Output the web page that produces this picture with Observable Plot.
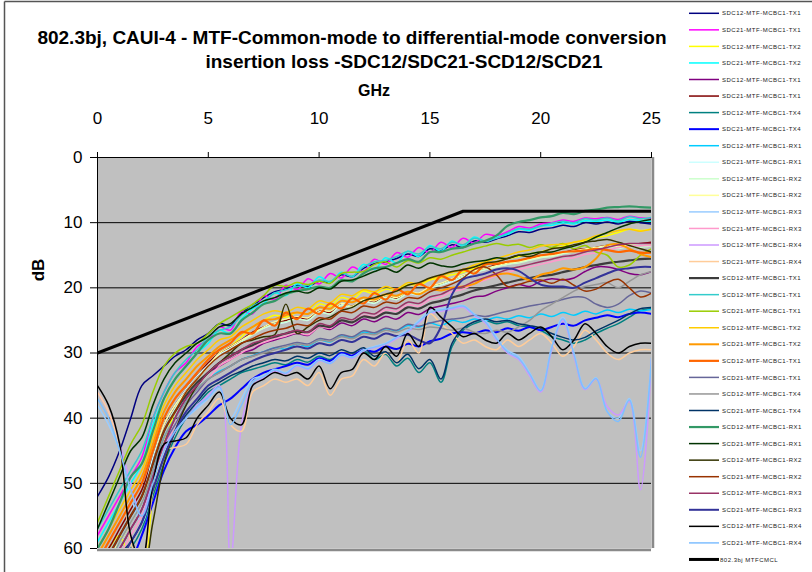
<!DOCTYPE html>
<html><head><meta charset="utf-8">
<script src="https://cdn.jsdelivr.net/npm/d3@7"></script>
<script src="https://cdn.jsdelivr.net/npm/@observablehq/plot@0.6"></script>
<style>
html,body{margin:0;padding:0;background:#fff}
#chart{position:relative;width:812px;height:572px;overflow:hidden}
</style></head><body><div id="chart"></div>
<script>
// ---------- data ----------
const freqGHz = [0,0.5,1,1.5,2,2.5,3,3.5,4,4.5,5,5.5,6,6.5,7,7.5,8,8.5,9,9.5,10,10.5,11,11.5,12,12.5,13,13.5,14,14.5,15,15.5,16,16.5,17,17.5,18,18.5,19,19.5,20,20.5,21,21.5,22,22.5,23,23.5,24,24.5,25];

const seriesNames = [
 "SDC12-MTF-MCBC1-TX1","SDC21-MTF-MCBC1-TX1","SDC12-MTF-MCBC1-TX2","SDC21-MTF-MCBC1-TX2",
 "SDC12-MTF-MCBC1-TX1","SDC21-MTF-MCBC1-TX1","SDC12-MTF-MCBC1-TX4","SDC21-MTF-MCBC1-TX4",
 "SDC12-MTF-MCBC1-RX1","SDC21-MTF-MCBC1-RX1","SDC12-MTF-MCBC1-RX2","SDC21-MTF-MCBC1-RX2",
 "SDC12-MTF-MCBC1-RX3","SDC21-MTF-MCBC1-RX3","SDC12-MTF-MCBC1-RX4","SDC21-MTF-MCBC1-RX4",
 "SCD12-MTF-MCBC1-TX1","SCD12-MTF-MCBC1-TX1","SCD21-MTF-MCBC1-TX1","SCD12-MTF-MCBC1-TX2",
 "SCD21-MTF-MCBC1-TX2","SCD12-MTF-MCBC1-TX1","SCD21-MTF-MCBC1-TX1","SCD12-MTF-MCBC1-TX4",
 "SCD21-MTF-MCBC1-TX4","SCD12-MTF-MCBC1-RX1","SCD21-MTF-MCBC1-RX1","SCD12-MTF-MCBC1-RX2",
 "SCD21-MTF-MCBC1-RX2","SCD12-MTF-MCBC1-RX3","SCD21-MTF-MCBC1-RX3","SCD12-MTF-MCBC1-RX4",
 "SCD21-MTF-MCBC1-RX4"
];

// dB values at each freqGHz point, one array per series (same order as seriesNames)
const s01 = [52,49,45,40,35,33.5,32,30.5,29.5,28,27,25.5,25.8,23.8,22.8,21.5,20.6,20.2,19.6,19.8,19,19.2,18,18.3,17,16.3,16,15.5,14.8,15.2,14,14.3,13.4,13.8,12.8,13,12.5,12,11.4,11.5,11,10.8,10.4,10.6,10,10.2,9.9,10.2,9.8,10,10.2];
const s02 = [58,55,52,49,46,40,36,33,31.5,29,28,26,26.5,23.6,24,21.2,21.8,19.6,20.3,18.6,19.4,17.8,18.5,16.8,17.5,15.6,16.4,14.6,15.3,13.8,14.6,13,13.8,12.4,13.1,11.8,12,11.4,10.6,10.8,10.2,10,9.6,9.8,9.3,9.4,9.2,9.5,9,9.3,9.4];
const s03 = [62,60,58,62,63,52,44,39,36,34,32,30,29,27.5,26,25,24.2,24.5,23.8,24,22.5,22.8,21.5,21.8,20.5,21,20.2,20.5,19.5,19.6,18.8,18.5,18,17.6,17,16.5,16,15.5,15.2,14.8,14.5,14,13.6,13,12.8,12.3,12,11.5,11,11.2,11];
const s04 = [59,56,53,50,47,41,37,34,32,30,28.5,26.5,27,24.8,23.2,22.4,20.8,21.2,19.4,20,18.3,19.2,17.6,18.3,16.4,17.2,15.4,16.2,14.4,15.2,13.5,14.4,12.8,13.6,12.2,12.9,12.3,11.8,11,11.2,10.5,10.4,10,10.2,9.7,9.8,9.6,9.9,9.5,9.7,9.8];
const s05 = [64,62,60,57,54,49,44,40,37,35,33,32,31,30,29.5,28.5,28,27.5,27,27.3,26,26.4,25.4,25.8,24.8,25.2,24.4,24.8,23.8,24.1,23.2,22.8,22.4,22,21.4,21.2,20.5,20,19.5,19.8,19,18.6,18.8,18.5,17.5,16.8,16.8,17.2,17.8,18,17.5];
const s06 = [62,60,57,54,51,46,41,38,35.5,33.5,31.5,30,29,28,26.8,26,25.5,25,24.5,24.8,23.5,23.8,22.5,22.8,22,22.2,21.3,21.6,20.8,21,20,19.5,18.8,18.2,17.5,17,16.5,16.2,15.8,15.5,15.2,15,14.6,14.2,14,13.8,13.5,13.6,13.3,13.2,13];
const s07 = [66,64,62,60,57,52,47,43,40,38,36,35,34,33,32.5,32,31.5,31.8,31,31.4,30.5,31,30,30.5,29.6,31,30.2,32,30.8,33,31.5,34.5,29,26.5,25.5,25,25.5,25.2,25.8,26,26.5,27.5,28,28.5,28,27,26.2,25.5,24.5,23.5,23.2];
const s08 = [66,65,64,62,58,53,48,44.5,42,41,39.6,38,37,35.5,34,33,32.5,32,31.5,31.8,30.8,31.2,30,30.4,29.5,29.8,29,29.4,28.6,29,28.2,27.8,27,26.8,27,26.5,26.8,26.2,26.6,26,26.5,26,25.5,25.8,25,24.6,24.2,24.5,24,23.8,24];
const s09 = [64,62,59,56,53,48,43,40,37.5,35.5,34,32.8,32,31,30.4,29.8,29.2,29.4,28.6,29,28,28.3,27.4,27.7,26.8,27.1,26.3,26.6,25.8,26,25.4,25.8,25,25.3,24.8,25,24.5,24.8,24.3,24.6,24,24.4,23.8,24.2,23.6,24,23.4,23.8,23.3,23.5,23.3];
const s10 = [63,61,58,55,52,46,41,38,35.5,33.5,31.8,30.2,29.3,28.2,27,26.2,25.6,25.3,24.7,25,23.7,24,22.6,23,22.1,22.4,21.4,21.8,20.9,21.1,20.1,19.6,19,18.4,17.7,17.2,16.7,16.4,16,15.7,15.3,15.1,14.7,14.4,14.2,13.9,13.6,13.7,13.4,13.3,13.2];
const s11 = [63,61,59,56,53,47,42,38.5,36,34,32,30.5,29.5,28.3,27.2,26.2,25.5,25.2,24.8,24.9,23.8,24,22.7,23,22,22.3,21.5,21.8,20.8,21,20,19.5,18.8,18.2,17.6,17.2,16.8,16.4,16.2,15.8,15.4,15.2,14.8,14.5,14.3,14,13.8,14,13.7,13.8,13.6];
const s12 = [63,61,59,56,53,47,41,38,36,34,32,30,29,28,27,26,25.2,24.8,24.4,24.6,23.4,23.6,22.4,22.8,21.8,22,21.2,21.5,20.6,20.8,19.8,19.3,18.6,18,17.4,17,16.6,16.2,16,15.6,15.2,15,14.6,14.3,14,13.8,13.5,13.6,13.4,13.5,13.4];
const s13 = [38,41,45,52,56,50,45,42,40,38.5,37,35.5,40,37,34,33.5,32.5,33,31.8,32.3,31,31.5,30.2,30.6,29.5,29,28.5,27.5,26.5,25,23.5,23.2,23,22.7,24,25,27.5,29.6,30.5,33,35.7,29,24.5,30,35.4,33.8,39,40,37,45,30.8];
const s14 = [65,63,61,58,55,50,45,41,38,36,34,32,31,30,29,28.4,27.8,27.4,26.9,27.2,26,26.2,25,25.3,24.2,24.4,23.4,23.6,22.6,22.8,21.8,21.4,20.6,20.2,19.4,18.8,18.2,17.6,17.2,16.8,16.4,16,15.6,15.4,14.9,14.6,14.2,13.8,13.6,13.5,13.5];
const s15 = [36,39,44,50,55,49,44.5,42,40,38,36.5,35,62,41,35,33.8,32.8,33.2,32,32.5,31.2,31.6,30.4,30.8,29.7,29.2,28.7,27.8,26.8,25.4,24,23.6,23.3,23,24.3,25.4,28,30,31,33.5,36,29.5,25,30.5,35.6,34,38.2,39.5,37.5,51,31];
const s16 = [36,39,45,59,63,51,45,44.5,44,41,39,37,41,42,36,35,34,34.5,34,35,33,36.5,34,33.5,31,32,30,31.5,28,30,24,25.5,27,28.5,28,29,29.5,28,29,28,27,28.5,30.5,29,26.5,28,30,31,30,29.5,29.5];
const s17 = [63,61,58,55,52,47,42,39,36.5,34.5,33,31.5,30.5,29.5,28.8,28,27.5,27,26.6,26.8,25.8,26,25,25.3,24.4,24.6,23.8,24,23,23.2,22.4,22,21.5,21,20.4,20,19.6,19.2,18.8,18.5,18.2,18,17.6,17.2,16.8,16.5,16.2,16,15.8,15.6,15.5];
const s18 = [57,54,51,48,45,40,36,33,31,29.5,27.5,26.5,26,24.2,22.8,22,20.8,20.3,19.8,19.6,18.8,19,17.8,18.2,16.8,16,15.8,15.2,14.4,14.8,13.7,14,13,13.4,12.4,12.8,12.4,11.6,10.9,11,10.5,10.1,9.8,10,9.4,9.6,9.3,9.7,9.1,9.4,9.2];
const s19 = [56,52,48,44,41,36,32,30,29,28.5,27,25.5,24.5,23.5,22.5,21.2,19.6,19.8,19.2,19.5,19,19.3,17.8,17.6,17.5,16.4,16,16.8,15.8,16.2,15.4,15.6,15,14.5,14,13.6,13.2,13.5,13.3,13.8,13.4,13.8,13.2,14,13.5,14.5,15,16.8,16.5,15,14];
const s20 = [60,57,54,51,48,43,38,35,33,31,29.5,28,27.5,26,25,24,23.5,23.8,23,23.2,22,22.3,21,21.2,20.3,20.6,19.8,20.2,19.2,19.4,18.6,18.2,17.6,17.2,16.5,16,15.5,15,14.5,14.2,13.6,13.4,13.3,13,12.6,12,11.6,11.2,11,11.3,11];
const s21 = [61,58,55,52,49,44,39,36,34,32,30.5,29,28,27,26,25,24.8,24.2,23.8,24,23,23.2,22,22.2,21.5,21.8,21,21.2,20.6,21,20.2,20.4,20,19.8,19.4,18.5,18,17.8,18.2,18.8,18,17.6,17,17.2,16.8,15.5,13.5,13.3,14,14.8,15.3];
const s22 = [62,59,56,53,50,45,40,37,35,33,31,29.5,28.5,26.8,27,25,25.8,23.8,24.8,23.2,24,22.4,23.2,21.6,22.4,20.8,21.8,20.2,21,19.4,20,18.2,18.8,17.2,17.8,16.4,16.3,16,15.8,15.4,15,14.8,14.5,14.4,14.3,14,14.2,14.5,14.3,14.6,14.6];
const s23 = [65,63,60,57,54,49,44,41,38,36,34,33,32,31,30.5,29.8,29.2,28.8,28.4,28.6,27.8,28,27.2,27.5,26.6,26.9,26.2,26.5,25.6,25.9,25.4,25,24.8,24.6,24.2,24.4,24,23.6,23.2,22.8,22.5,22.2,21.8,21.4,21.5,22.5,23,22.5,21.2,20.5,20.8];
const s24 = [64,62,59,56,53,48,43,40,37.5,35.5,34,33,32,31,30.5,30,29.5,29,28.6,28.8,28,28.2,27.5,27.8,27,27.2,26.5,26.8,26.2,26.4,26,26.2,26.5,26.2,26.8,27,26.5,26.8,26,25,23.5,22.5,21.5,20.5,19.8,19.5,19.2,20,19,18,17.5];
const s25 = [66,64,61,59,56,51,46,42,39.5,37.5,35.5,34.5,33.5,32.8,32,31.5,31,31.2,30.5,30.8,30,30.4,29.5,30,29.2,30.5,29.8,31.5,30.2,32.4,31,34,28.5,26.2,25.2,24.8,25.2,25,25.5,25.8,26.2,27,27.6,28,27.6,26.6,25.8,25,24,23.2,23];
const s26 = [60,57,53,49,47,42,37,34,32,30,28,27,27,25,23.8,22.5,22,21,20.5,20.2,19.8,20,18.8,19,17.8,17,16.8,16.2,15.6,16,14.5,14.5,14,13.8,13.2,12.8,12,10.5,9.9,9.6,9.2,9,8.5,8.7,8.2,8,7.7,7.6,7.5,7.6,7.7];
const s27 = [57,53,49,45,43,38,34,31.5,30,28.5,27.5,26,25.5,24,23,22,21.5,20.8,20.5,20.8,20,20.2,19,18.8,18.2,17.5,17,17.6,16.5,17,16.2,16.6,16.8,16.3,16,15.8,15.4,15.5,15,14.8,14.5,14.5,14,13.6,13,12.2,11.5,10.8,10.2,9.8,9.5];
const s28 = [64,63,61,62,64,56,47,42,38,35,33,31.5,30,28.5,28,27.5,27.2,22.5,27,26,25,24.5,23.5,23,22,21.5,21,20.5,19.6,19.2,18.5,18,17.5,17.2,16.8,16.2,16,15.5,15,15.2,14.6,14,13.8,13.4,13,12.8,12.6,13,13.5,14,14.5];
const s29 = [63,61,58,55,52,47,42,39,36,34,32,30.5,29.5,28.5,27.8,27,26.5,26.2,25.6,25.8,24.6,24.8,23.6,23.8,22.8,23,22.2,22.4,21.5,21.6,20.6,20,19.4,18.5,17.2,16.8,18,19.8,19.5,19,18.8,19.3,18.7,19.6,20.5,20.2,19.2,18.7,20,21.4,20.8];
const s30 = [64,62,60,57,54,49,44,40,37,35,33,31.5,30.5,29.5,28.5,28,27.4,27,26.5,26.8,25.5,25.8,24.6,24.9,23.8,24,23,23.2,22.2,22.4,21.4,21,20.2,19.8,19,18.4,17.8,17.2,16.8,16.4,16,15.6,15.2,15,14.5,14.2,13.8,13.4,13.2,13.2,13.2];
const s31 = [66,64,62,59,56,51,46,42,39,37,35,34,33,32,31.2,30.5,30,29.5,29,29.3,28.5,28.8,28,28.3,27.5,27.8,27,27.4,27.2,28,28.5,26,21,18.7,18.2,17.8,17.2,17,17.4,18.5,19.5,19.8,19.8,20,19.2,18.5,17.8,17.2,17,16.8,16.8];
const s32 = [35,38,44,58,62,50,44,43.5,43,40,38,36,40,41,35,34,33,33.5,33,34,32,35.5,33,32.5,30,31,29,30.5,27,29,23,24.5,26,27.5,27,28,28.5,27,28,27,26,27.5,29.5,28,25.5,27,29,30,29,28.5,28.5];
const s33 = [37,40,45,51,55,50,45,42,40,38.2,36.8,35.2,41,38,34.5,33.6,32.6,33.1,31.9,32.4,31.1,31.6,30.3,30.7,29.6,29.1,28.6,27.6,26.6,25.2,23.8,23.4,23.1,22.8,24.1,25.2,27.8,29.8,30.8,33.2,35.8,29.2,24.8,30.2,35.5,33.9,39,40.5,37.2,46,30.8];
const seriesValues = [s01,s02,s03,s04,s05,s06,s07,s08,s09,s10,s11,s12,s13,s14,s15,s16,s17,s18,s19,s20,s21,s22,s23,s24,s25,s26,s27,s28,s29,s30,s31,s32,s33];

const limitName = "802.3bj MTFCMCL";
const limitGHz = [0, 16.5, 25];
const limitDB = [30, 8.25, 8.25];

const xTicks = [0,5,10,15,20,25];
const yTicks = [0,10,20,30,40,50,60];
const gridDB = [10,20,30,40,50];
const titleLines = ["802.3bj, CAUI-4 - MTF-Common-mode to differential-mode conversion",
                    "insertion loss -SDC12/SDC21-SCD12/SCD21"];
const xLabel = "GHz", yLabel = "dB";

// ---------- styles ----------
const lineColors = ["#000080","#FF00FF","#FFFF00","#00FFFF","#800080","#800000","#008080","#0000FF",
 "#00CCFF","#CCFFFF","#CCFFCC","#FFFF99","#99CCFF","#FF99CC","#CC99FF","#FFCC99",
 "#3c3c3c","#33CCCC","#99CC00","#FFCC00","#FF9900","#FF6600","#666699","#969696",
 "#003366","#339966","#003300","#333300","#993300","#993366","#333399","#000000","#7FBFFF"];
const lineWidths = [1.5,1.5,1.5,1.5,1.5,1.5,1.5,2,1.5,1.2,1.2,1.2,1.5,1.5,1.5,1.5,
 2.2,1.5,1.5,1.5,2,2.2,1.5,1.5,1.5,2.2,1.5,1.5,1.5,1.5,2,1.5,1.5];
const FONT = "'Liberation Sans', Arial, Helvetica, sans-serif";

// ---------- chart ----------
const tables = seriesValues.map(vals => freqGHz.map((f, j) => ({f, db: vals[j]})));
const limitTable = limitGHz.map((f, j) => ({f, db: limitDB[j]}));

const svg = Plot.plot({
  width: 812, height: 572,
  marginLeft: 97, marginRight: 161, marginTop: 157, marginBottom: 24,
  style: {fontFamily: FONT, background: "#fff", color: "#000", overflow: "visible"},
  x: {domain: [0, 25]},
  y: {domain: [0, 60], reverse: true},
  marks: [
    Plot.frame({fill: "#C0C0C0", stroke: null}),
    Plot.ruleY(gridDB, {stroke: "#000", strokeWidth: 1}),
    ...tables.map((t, i) => Plot.line(t, {x: "f", y: "db", stroke: lineColors[i], strokeWidth: lineWidths[i], curve: "catmull-rom", clip: true})),
    Plot.line(limitTable, {x: "f", y: "db", stroke: "#000", strokeWidth: 3, clip: true}),
    Plot.ruleX([25], {stroke: "#8a8a8a", strokeWidth: 2.5, dx: 1.5}),
    Plot.ruleY([60], {stroke: "#8a8a8a", strokeWidth: 2.5, dy: 1.5}),
    Plot.ruleX([0], {stroke: "#000", strokeWidth: 1}),
    Plot.ruleY([0], {stroke: "#000", strokeWidth: 1}),
    Plot.axisX({anchor: "top", ticks: xTicks, tickSize: 6, tickPadding: 28, fontSize: 17, label: null, tickFormat: d => String(d)}),
    Plot.axisY({anchor: "left", ticks: yTicks, tickSize: 7, tickPadding: 8, fontSize: 17, label: null, tickFormat: d => String(d)})
  ]
});

const root = d3.select(svg);
// outer chart border (top and left)
root.append("line").attr("x1", 4.5).attr("x2", 812).attr("y1", 1.5).attr("y2", 1.5).attr("stroke", "#555").attr("stroke-width", 1.5);
root.append("line").attr("x1", 4.5).attr("x2", 4.5).attr("y1", 1.5).attr("y2", 572).attr("stroke", "#555").attr("stroke-width", 1.5);

// titles
const T = root.append("g").attr("text-anchor", "middle").attr("font-family", FONT).attr("font-weight", "bold").attr("fill", "#000");
T.append("text").attr("x", 352).attr("y", 44).attr("font-size", 19).text(titleLines[0]);
T.append("text").attr("x", 404).attr("y", 68).attr("font-size", 19).text(titleLines[1]);
T.append("text").attr("x", 374).attr("y", 96).attr("font-size", 16).text(xLabel);
T.append("text").attr("transform", "translate(44,270) rotate(-90)").attr("font-size", 17).text(yLabel);

// legend
const legNames = [...seriesNames, limitName];
const legColors = [...lineColors, "#000"];
const legWidths = [...lineWidths.map(w => Math.max(w, 1.5)), 3];
const lg = root.append("g").attr("text-anchor", "start").attr("font-family", FONT);
legNames.forEach((name, i) => {
  const y = 13.3 + 16.55 * i;
  lg.append("line").attr("x1", 689).attr("x2", 719).attr("y1", y).attr("y2", y)
    .attr("stroke", legColors[i]).attr("stroke-width", legWidths[i]);
  lg.append("text").attr("x", i === legNames.length - 1 ? 720 : 722).attr("y", y).attr("dy", "0.35em")
    .attr("font-size", 6).attr("letter-spacing", 0.5).attr("fill", "#222").text(name);
});

document.getElementById("chart").appendChild(svg);
</script></body></html>
